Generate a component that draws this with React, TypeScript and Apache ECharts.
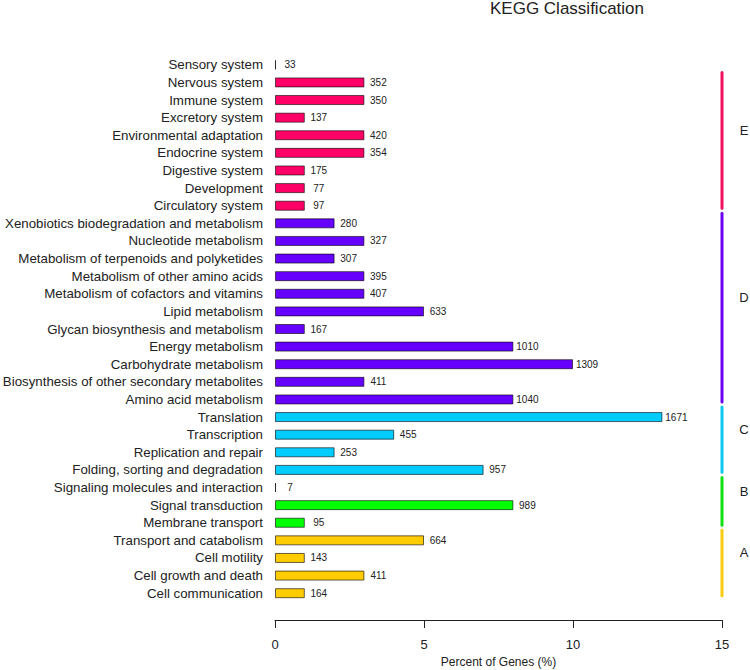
import React, { useEffect, useRef } from "react";
import * as echarts from "echarts";

const categories = [
  "Sensory system",
  "Nervous system",
  "Immune system",
  "Excretory system",
  "Environmental adaptation",
  "Endocrine system",
  "Digestive system",
  "Development",
  "Circulatory system",
  "Xenobiotics biodegradation and metabolism",
  "Nucleotide metabolism",
  "Metabolism of terpenoids and polyketides",
  "Metabolism of other amino acids",
  "Metabolism of cofactors and vitamins",
  "Lipid metabolism",
  "Glycan biosynthesis and metabolism",
  "Energy metabolism",
  "Carbohydrate metabolism",
  "Biosynthesis of other secondary metabolites",
  "Amino acid metabolism",
  "Translation",
  "Transcription",
  "Replication and repair",
  "Folding, sorting and degradation",
  "Signaling molecules and interaction",
  "Signal transduction",
  "Membrane transport",
  "Transport and catabolism",
  "Cell motility",
  "Cell growth and death",
  "Cell communication",
];

const percents = [
  0, 3, 3, 1, 3, 3, 1, 1, 1, 2, 3, 2, 3, 3, 5, 1, 8, 10, 3, 8, 13, 4, 2, 7, 0,
  8, 1, 5, 1, 3, 1,
];

const counts = [
  33, 352, 350, 137, 420, 354, 175, 77, 97, 280, 327, 307, 395, 407, 633, 167,
  1010, 1309, 411, 1040, 1671, 455, 253, 957, 7, 989, 95, 664, 143, 411, 164,
];

const groupNames = ["E", "D", "C", "B", "A"];
const groupColors = ["#FF0066", "#6600FF", "#00CCFF", "#00FF00", "#FFCC00"];
const lineColors = ["#F0105E", "#6A00F0", "#0CC8F0", "#11E011", "#F8CC10"];
// last category index of each group (top to bottom)
const groupLast = [8, 19, 23, 26, 30];
// first category index covered by each group's bracket line
const bracketFirst = [1, 9, 20, 24, 27];

const groupOf = (i: number) => {
  for (let g = 0; g < groupLast.length; g++) if (i <= groupLast[g]) return g;
  return groupLast.length - 1;
};

const xTicks = [0, 5, 10, 15];

export default function App() {
  const ref = useRef<HTMLDivElement>(null);
  useEffect(() => {
    if (!ref.current) return;
    const chart = echarts.init(ref.current, null, { renderer: "svg" });
    const font = "Liberation Sans, Arial, sans-serif";
    chart.setOption({
      animation: false,
      textStyle: { fontFamily: font },
      title: {
        text: "KEGG Classification",
        left: 490,
        top: 0,
        padding: 0,
        textStyle: { fontSize: 17, fontWeight: "normal", color: "#222", fontFamily: font },
      },
      grid: {
        left: 275,
        right: 28,
        top: 56,
        bottom: 68,
        containLabel: false,
        outerBoundsMode: "none",
      },
      xAxis: {
        type: "value",
        min: xTicks[0],
        max: xTicks[xTicks.length - 1],
        interval: 5,
        offset: 18,
        name: "Percent of Genes (%)",
        nameLocation: "middle",
        nameGap: 34,
        nameTextStyle: { fontSize: 12, color: "#222", fontFamily: font },
        axisLine: { show: true, lineStyle: { color: "#222", width: 1 } },
        axisTick: { show: true, length: 8, lineStyle: { color: "#222" } },
        axisLabel: { fontSize: 13, color: "#222", margin: 18, fontFamily: font },
        splitLine: { show: false },
      },
      yAxis: {
        type: "category",
        data: categories,
        inverse: true,
        axisLine: { show: false },
        axisTick: { show: false },
        axisLabel: {
          interval: 0,
          fontSize: 13.3,
          color: "#222",
          margin: 12,
          fontFamily: font,
        },
      },
      series: [
        {
          type: "bar",
          barWidth: 10,
          barMinHeight: 1,
          data: percents.map((v, i) => ({
            value: v,
            itemStyle: {
              color: groupColors[groupOf(i)],
              borderColor: "rgba(0,0,0,0.6)",
              borderWidth: 1,
            },
          })),
          label: {
            show: true,
            position: "right",
            distance: 14,
            align: "center",
            fontSize: 10,
            color: "#222",
            fontFamily: font,
            formatter: (p: any) => String(counts[p.dataIndex]),
          },
        },
        {
          type: "custom",
          clip: false,
          silent: true,
          data: groupNames.map((_, g) => [xTicks[xTicks.length - 1], bracketFirst[g], groupLast[g]]),
          encode: { x: 0, y: [1, 2] },
          renderItem: (params: any, api: any) => {
            const g = params.dataIndex;
            const top = api.coord([api.value(0), api.value(1)]);
            const bot = api.coord([api.value(0), api.value(2)]);
            const band = api.size([0, 1])[1];
            const y1 = top[1] - band * 0.57;
            const y2 = bot[1] + band * 0.14;
            return {
              type: "group",
              children: [
                {
                  type: "line",
                  shape: { x1: top[0], y1, x2: top[0], y2 },
                  style: { stroke: lineColors[g], lineWidth: 3, lineCap: "round" },
                },
                {
                  type: "text",
                  style: {
                    text: groupNames[g],
                    x: top[0] + 22,
                    y: (y1 + y2) / 2 - 10,
                    align: "center",
                    verticalAlign: "middle",
                    fontSize: 13,
                    fill: "#222",
                    fontFamily: font,
                  },
                },
              ],
            };
          },
        },
      ],
    });
    return () => chart.dispose();
  }, []);
  return (
    <div
      ref={ref}
      style={{ position: "absolute", left: 0, top: 0, width: 750, height: 670 }}
    />
  );
}
